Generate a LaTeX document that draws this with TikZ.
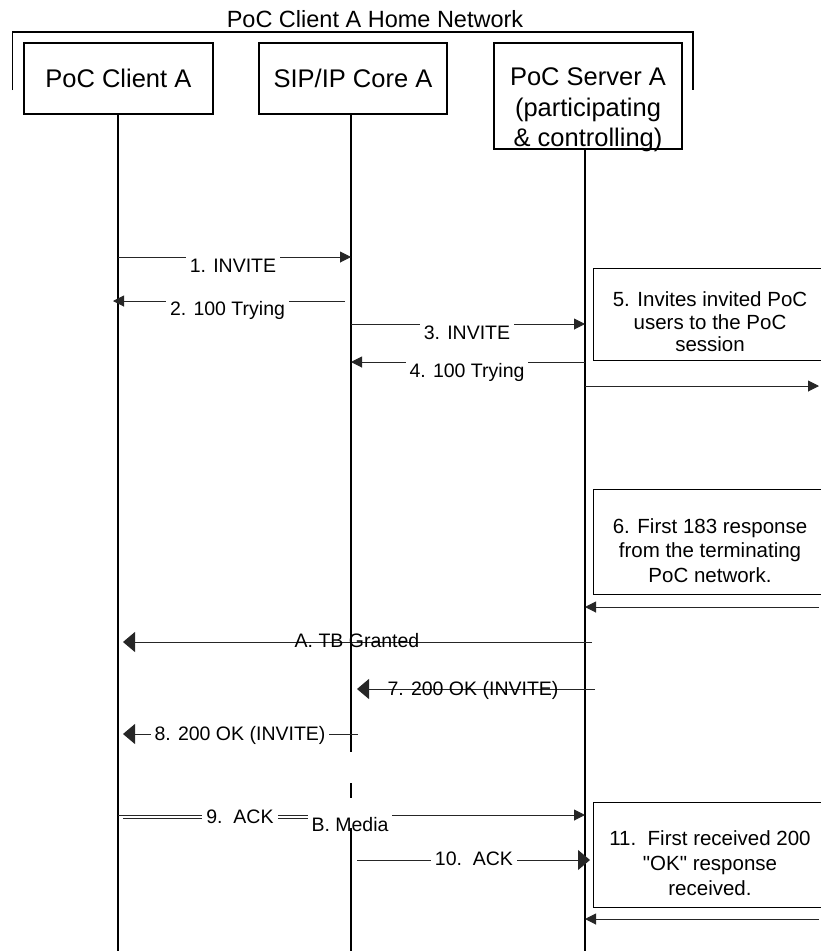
\documentclass[tikz,border=0pt]{standalone}
\usepackage{fontspec}
\setmainfont{Liberation Sans}[Ligatures=TeXOff]
\usetikzlibrary{arrows.meta}
\begin{document}
\begin{tikzpicture}[x=1pt,y=-1pt,
  actor/.style={draw,line width=1.2pt,inner sep=0pt,font=\fontsize{25.5}{30.5}\selectfont},
  lifeline/.style={line width=1.6pt},
  msg/.style={line width=1pt,draw=black!85},
  sm/.style={-{Triangle[length=11pt,width=11pt]}},
  bg/.style={-{Triangle[length=12pt,width=20pt]}},
  lbl/.style={font=\fontsize{19.5}{22}\selectfont,inner sep=0pt,anchor=base},
  lblw/.style={lbl,fill=white,inner xsep=4pt,inner ysep=3pt},
  note/.style={draw,line width=1pt,inner sep=0pt,minimum width=234pt},
  notetext/.style={align=center,inner sep=0pt,anchor=north}
]
\useasboundingbox (0,0) rectangle (821,951);
\clip (0,0) rectangle (821,951);

% home network bracket and title
\node[anchor=base,font=\fontsize{23.5}{28}\selectfont] (title) at (375,27) {PoC Client A Home Network};
\coordinate (brL) at (12.6,90);
\coordinate (brR) at (693,90);
\draw[line width=1.2pt] (brL) -- (brL|-0,32) -- (brR|-0,32) -- (brR);

% participants
\node[actor,minimum width=189pt,minimum height=71pt] (A) at (118.4,78.5) {PoC Client A};
\node[actor,minimum width=188pt,minimum height=71pt] (S) at (353,78.5) {SIP/IP Core A};
\node[actor,minimum width=188pt,minimum height=106pt] (P) at (588,96) {};
\node[align=center,inner sep=0pt,anchor=north,font=\fontsize{25.5}{30.5}\selectfont] (Ptext) at (588,67.5) {PoC Server A\\(participating\\\& controlling)};

\coordinate (LA) at (118,0);
\coordinate (LS) at (351,0);
\coordinate (LP) at (585,0);
\coordinate (RE) at (819,0);

% lifelines
\draw[lifeline] (LA|-A.south) -- (LA|-0,951);
\draw[lifeline] (LS|-S.south) -- (LS|-0,752);
\draw[lifeline] (LS|-0,783) -- (LS|-0,798);
\draw[lifeline] (LP|-P.south) -- (LP|-0,951);

% note boxes
\node[note,minimum height=92pt] (n5) at (710,314) {};
\node[notetext,font=\fontsize{20.5}{22.5}\selectfont] (n5t) at (710,291.5) {5. Invites invited PoC\\users to the PoC\\session};
\node[note,minimum height=105pt] (n6) at (710,541.5) {};
\node[notetext,font=\fontsize{20.5}{24.5}\selectfont] (n6t) at (710,518) {6. First 183 response\\from the terminating\\PoC network.};
\node[note,minimum height=105pt] (n11) at (710,854.5) {};
\node[notetext,font=\fontsize{20.5}{25}\selectfont] (n11t) at (710,830) {11.\ \ First received 200\\"OK" response\\received.};

% messages
\draw[msg,sm] (LA|-0,257) -- (LS|-0,257);
\node[lblw] (m1) at (233,272) {1. INVITE};

\draw[msg,sm,shorten <=6pt,shorten >=-5pt] (LS|-0,301) -- (LA|-0,301);
\node[lblw] (m2) at (227.5,315) {2. 100 Trying};

\draw[msg,sm] (LS|-0,324) -- (LP|-0,324);
\node[lblw] (m3) at (467,339) {3. INVITE};

\draw[msg,sm] (LP|-0,362) -- (LS|-0,362);
\node[lblw] (m4) at (467,377) {4. 100 Trying};

\draw[msg,sm] (LP|-0,386) -- (RE|-0,386);

\draw[msg,sm] (RE|-0,607) -- (LP|-0,607);

\draw[msg,bg,shorten <=-7pt,shorten >=5pt] (LP|-0,642) -- (LA|-0,642);
\node[lbl] (mA) at (357,647) {A. TB Granted};

\draw[msg,bg,shorten <=-10pt,shorten >=6pt] (LP|-0,689) -- (LS|-0,689);
\node[lbl] (m7) at (473,695) {7. 200 OK (INVITE)};

\draw[msg,bg,shorten <=-7pt,shorten >=5pt] (LS|-0,734) -- (LA|-0,734);
\node[lblw] (m8) at (240,740) {8. 200 OK (INVITE)};

\draw[msg,sm] (LA|-0,815) -- (LP|-0,815);
\draw[msg,shorten <=5pt] (LA|-0,818) -- (LS|-0,818);
\node[lblw] (m9) at (240,823) {9.\ \ ACK};
\node[lblw] (mB) at (350,831) {B. Media};
\draw[lifeline] (LS|-0,828) -- (LS|-0,951);

\draw[msg,bg,shorten <=6pt,shorten >=-5pt] (LS|-0,860) -- (LP|-0,860);
\node[lblw] (m10) at (474,865) {10.\ \ ACK};

\draw[msg,sm] (RE|-0,919) -- (LP|-0,919);
\end{tikzpicture}
\end{document}
